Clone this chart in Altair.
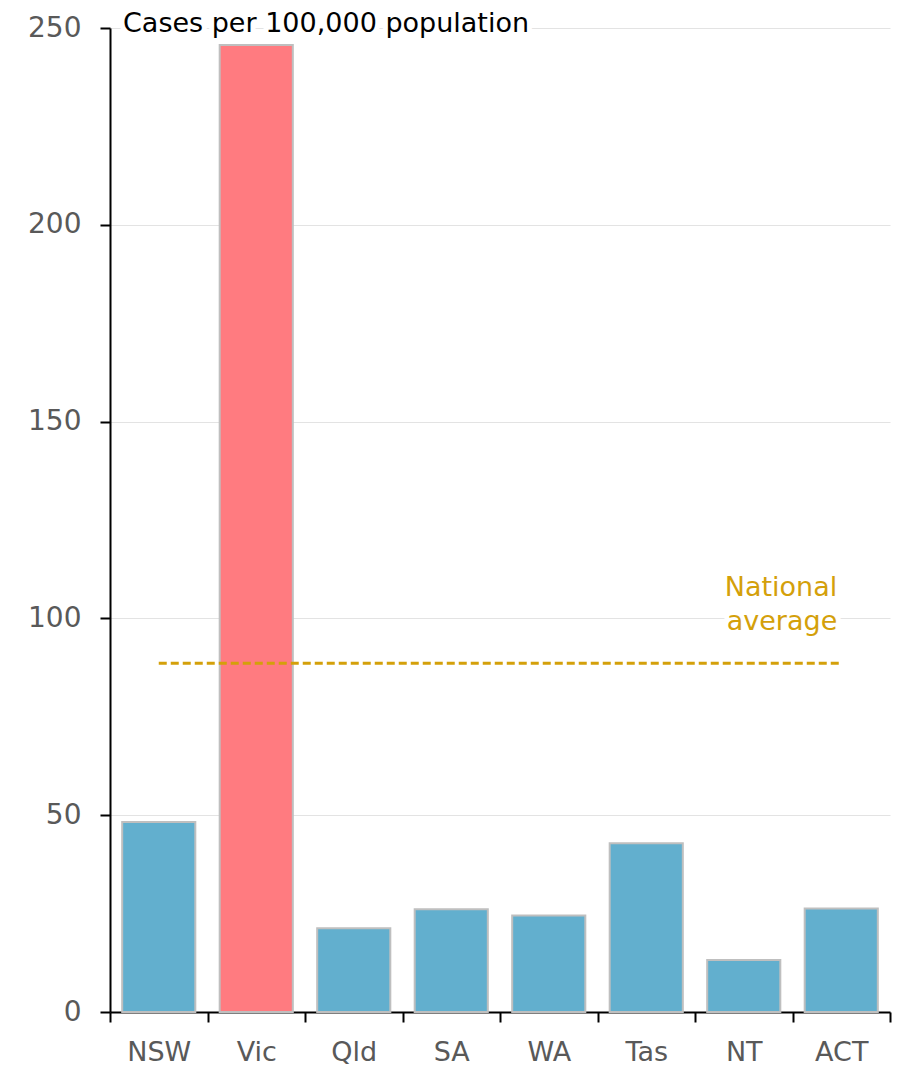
import altair as alt
import pandas as pd

states = ["NSW", "Vic", "Qld", "SA", "WA", "Tas", "NT", "ACT"]
cases = [48.3, 245.7, 21.3, 26.1, 24.5, 42.9, 13.2, 26.3]
highlight_states = ["Vic"]
national_average = 88.6
y_ticks = [0, 50, 100, 150, 200, 250]
chart_title = "Cases per 100,000 population"
avg_label = "National\naverage"
avg_label_y = 107.7

BLUE = "#62AFCE"
RED = "#FF7B80"
GOLD = "#D4A00A"
FONT = "DejaVu Sans"

df = pd.DataFrame({
    "state": states,
    "cases": cases,
    "group": ["highlight" if s in highlight_states else "other" for s in states],
})
avg_df = pd.DataFrame({"start": [states[0]], "end": [states[-1]], "avg": [national_average]})
avg_lab_df = pd.DataFrame({"state": [states[-1]], "yv": [avg_label_y], "label": [avg_label]})
title_df = pd.DataFrame({"yv": [y_ticks[-1]], "label": [chart_title]})

xscale = alt.Scale(domain=states, paddingInner=0, paddingOuter=0)
yscale = alt.Scale(domain=[0, 250], nice=False)

x_axis = alt.Axis(
    title=None, grid=False, labelAngle=0, tickBand="extent",
    labelFontSize=27, labelColor="#595959", labelPadding=17,
    tickSize=10, tickWidth=2, tickColor="black",
    domainColor="black", domainWidth=2,
)
y_axis = alt.Axis(
    title=None, values=y_ticks, grid=True, gridColor="#e3e3e3", gridWidth=1,
    labelFontSize=28, labelColor="#595959", labelPadding=19,
    tickSize=10, tickWidth=2, tickColor="black",
    domainColor="black", domainWidth=2,
)

bars = alt.Chart(df).mark_bar(
    stroke="#bfbfbf", strokeWidth=2, width=alt.RelativeBandSize(0.75)
).encode(
    x=alt.X("state:N", scale=xscale, sort=states, axis=x_axis),
    y=alt.Y("cases:Q", scale=yscale, axis=y_axis),
    color=alt.Color("group:N", scale=alt.Scale(domain=["other", "highlight"], range=[BLUE, RED]), legend=None),
)

rule = alt.Chart(avg_df).mark_rule(color=GOLD, strokeWidth=3, strokeDash=[8, 4]).encode(
    x=alt.X("start:N", scale=xscale, sort=states, axis=x_axis),
    x2="end:N",
    y=alt.Y("avg:Q", scale=yscale, axis=y_axis),
)

avg_text_kw = dict(align="right", baseline="middle", dx=-4, fontSize=27, font=FONT,
                   lineBreak="\n", lineHeight=34)
avg_halo = alt.Chart(avg_lab_df).mark_text(color="white", stroke="white", strokeWidth=10, **avg_text_kw).encode(
    x=alt.X("state:N", scale=xscale, sort=states, axis=x_axis),
    y=alt.Y("yv:Q", scale=yscale, axis=y_axis),
    text="label:N",
)
avg_text = alt.Chart(avg_lab_df).mark_text(color=GOLD, **avg_text_kw).encode(
    x=alt.X("state:N", scale=xscale, sort=states, axis=x_axis),
    y=alt.Y("yv:Q", scale=yscale, axis=y_axis),
    text="label:N",
)

title_kw = dict(align="left", baseline="alphabetic", dy=4, fontSize=27, font=FONT)
title_halo = alt.Chart(title_df).mark_text(color="white", stroke="white", strokeWidth=10, **title_kw).encode(
    x=alt.value(13),
    y=alt.Y("yv:Q", scale=yscale, axis=y_axis),
    text="label:N",
)
title_text = alt.Chart(title_df).mark_text(color="black", **title_kw).encode(
    x=alt.value(13),
    y=alt.Y("yv:Q", scale=yscale, axis=y_axis),
    text="label:N",
)

chart = alt.layer(bars, rule, avg_halo, avg_text, title_halo, title_text).properties(
    width=780, height=984,
    autosize=alt.AutoSizeParams(type="none"),
    padding={"left": 102, "top": 20, "right": 8, "bottom": 58},
).configure_view(stroke=None).configure_axis(labelFont=FONT).configure_text(font=FONT)

chart.save("out.html", embed_options={"renderer": "svg", "actions": False})
